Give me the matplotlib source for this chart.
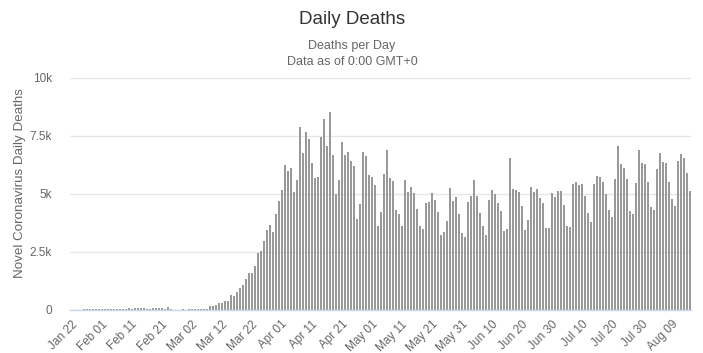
import matplotlib
matplotlib.use("Agg")
import matplotlib.pyplot as plt
import pandas as pd

dates = pd.date_range("2020-01-22", "2020-08-15", freq="D")

deaths = [
    18, 10, 16, 14, 26, 26, 38, 30, 30, 35, 35, 35,          # Jan 22 - Feb 02
    45, 50, 55, 50, 55, 55, 60, 95, 55, 85, 85, 90, 85,      # Feb 03 - Feb 15
    50, 55, 85, 85, 90, 85, 50, 135, 45, 5, 5, 5, 45, 5,     # Feb 16 - Feb 29
    45, 50, 45, 50, 50, 55, 55, 172, 172,                    # Mar 01 - Mar 09
    216, 302, 302, 388, 388, 647, 603, 776, 948, 1078,       # Mar 10 - Mar 19
    1336, 1595, 1595, 1896, 2457, 2543, 2974, 3448,          # Mar 20 - Mar 27
    3664, 3376, 4138, 4698,                                  # Mar 28 - Mar 31
    5172, 6250, 5991, 6106, 5100, 5603, 7873, 6781, 7672, 7370,  # Apr 01 - Apr 10
    6350, 5704, 5747, 7456, 8232, 7068, 8534, 6680, 5000, 5603,  # Apr 11 - Apr 20
    7241, 6680, 6795, 6422, 6206, 3922, 4569, 6795, 6637, 5818,  # Apr 21 - Apr 30
    5732, 5388, 3620, 4224, 5862, 6896, 5689, 5574, 4310, 4138,  # May 01 - May 10
    3620, 5603, 5100, 5301, 5043, 4353, 3620, 3491, 4612, 4655,  # May 11 - May 20
    5043, 4741, 4224, 3233, 3362, 3836, 5258, 4698, 4870, 4138,  # May 21 - May 30
    3319,                                                        # May 31
    3146, 4655, 4913, 5603, 4913, 4200, 3600, 3233, 4741, 5172,  # Jun 01 - Jun 10
    5000, 4612, 4267, 3405, 3491, 6551, 5215, 5172, 5086, 4482,  # Jun 11 - Jun 20
    3448, 3879, 5301, 5086, 5215, 4827, 4612, 3534, 3534, 5043,  # Jun 21 - Jun 30
    4870, 5129, 5129, 4526, 3620, 3577, 5431, 5517, 5388, 5431,  # Jul 01 - Jul 10
    4913, 4181, 3793, 5431, 5775, 5732, 5517, 5000, 4310, 4008,  # Jul 11 - Jul 20
    5646, 7068, 6293, 6120, 5646, 4267, 4138, 5474, 6896, 6336,  # Jul 21 - Jul 30
    6293,                                                        # Jul 31
    5517, 4439, 4310, 6077, 6767, 6379, 6336, 5517, 4784, 4482,  # Aug 01 - Aug 10
    6422, 6724, 6551, 5905, 5129,                                # Aug 11 - Aug 15
]

x_tick_labels = ["Jan 22", "Feb 01", "Feb 11", "Feb 21", "Mar 02", "Mar 12",
                 "Mar 22", "Apr 01", "Apr 11", "Apr 21", "May 01", "May 11",
                 "May 21", "May 31", "Jun 10", "Jun 20", "Jun 30", "Jul 10",
                 "Jul 20", "Jul 30", "Aug 09"]
y_ticks = [0, 2500, 5000, 7500, 10000]
y_tick_labels = ["0", "2.5k", "5k", "7.5k", "10k"]

plt.rcParams["font.family"] = ["Liberation Sans", "DejaVu Sans"]

W, H = 703, 353
fig = plt.figure(figsize=(W / 100, H / 100), dpi=100)
fig.patch.set_facecolor("white")

n = len(deaths)
left, top, bottom = 70, 78, 310
right = left + 3 * n
ax = fig.add_axes([left / W, 1 - bottom / H, (right - left) / W, (bottom - top) / H])

xs = list(range(n))
ax.bar(xs, deaths, width=2 / 3, color="#999999", linewidth=0, zorder=3,
       antialiased=False)

ax.set_xlim(-0.5, n - 0.5)
ax.set_ylim(0, 10000)

ax.set_yticks(y_ticks)
ax.set_yticklabels(y_tick_labels)
ax.grid(axis="y", color="#e6e6e6", linewidth=1, zorder=0)
ax.set_axisbelow(True)

ax.set_xticks(list(range(0, n, 10))[:len(x_tick_labels)])
ax.set_xticklabels(x_tick_labels, rotation=45, ha="right", rotation_mode="anchor")

ax.tick_params(axis="x", length=0, pad=6, labelsize=8.5, labelcolor="#666666")
ax.tick_params(axis="y", length=0, pad=13, labelsize=8.5, labelcolor="#666666")

for s in ["top", "right", "left"]:
    ax.spines[s].set_visible(False)
ax.spines["bottom"].set_color("#ccd6eb")
ax.spines["bottom"].set_linewidth(1)
ax.spines["bottom"].set_zorder(4)

fig.text(352 / W, 1 - 20 / H, "Daily Deaths", ha="center", va="center",
         fontsize=13.5, color="#333333")
fig.text(352 / W, 1 - 46 / H, "Deaths per Day", ha="center", va="center",
         fontsize=9, color="#666666")
fig.text(352 / W, 1 - 62 / H, "Data as of 0:00 GMT+0", ha="center", va="center",
         fontsize=9, color="#666666")
fig.text(20 / W, 1 - 183 / H, "Novel Coronavirus Daily Deaths", ha="center",
         va="center", rotation=90, fontsize=9.6, color="#666666")

fig.savefig("out.png", dpi=100, facecolor="white")
